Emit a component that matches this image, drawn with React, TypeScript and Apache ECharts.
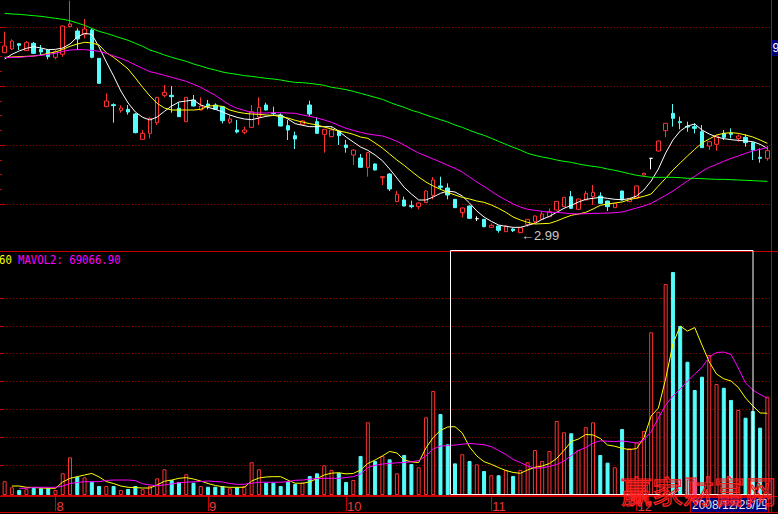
import React, { useEffect, useRef } from "react";
import * as echarts from "echarts";

// ---------- data ----------
const dates = [
  "2008-07-23","2008-07-24","2008-07-25","2008-07-28","2008-07-29","2008-07-30","2008-07-31",
  "2008-08-01","2008-08-04","2008-08-05","2008-08-06","2008-08-07","2008-08-08","2008-08-11","2008-08-12","2008-08-13","2008-08-14","2008-08-15","2008-08-18","2008-08-19","2008-08-20","2008-08-21","2008-08-22","2008-08-25","2008-08-26","2008-08-27","2008-08-28","2008-08-29",
  "2008-09-01","2008-09-02","2008-09-03","2008-09-04","2008-09-05","2008-09-08","2008-09-09","2008-09-10","2008-09-11","2008-09-12","2008-09-16","2008-09-17","2008-09-18","2008-09-19","2008-09-22","2008-09-23","2008-09-24","2008-09-25","2008-09-26",
  "2008-10-06","2008-10-07","2008-10-08","2008-10-09","2008-10-10","2008-10-13","2008-10-14","2008-10-15","2008-10-16","2008-10-17","2008-10-20","2008-10-21","2008-10-22","2008-10-23","2008-10-24","2008-10-27","2008-10-28","2008-10-29","2008-10-30","2008-10-31",
  "2008-11-03","2008-11-04","2008-11-05","2008-11-06","2008-11-07","2008-11-10","2008-11-11","2008-11-12","2008-11-13","2008-11-14","2008-11-17","2008-11-18","2008-11-19","2008-11-20","2008-11-21","2008-11-24","2008-11-25","2008-11-26","2008-11-27","2008-11-28",
  "2008-12-01","2008-12-02","2008-12-03","2008-12-04","2008-12-05","2008-12-08","2008-12-09","2008-12-10","2008-12-11","2008-12-12","2008-12-15","2008-12-16","2008-12-17","2008-12-18","2008-12-19","2008-12-22","2008-12-23","2008-12-24","2008-12-25"
];

const opens = [
  8.40, 8.51, 8.67, 8.46, 8.68, 8.50, 8.48, 8.26, 8.35, 9.18,
  9.05, 8.95, 9.08, 8.23, 6.78, 6.84, 6.67, 6.70, 6.56, 5.80,
  5.98, 6.30, 7.12, 7.12, 6.73, 6.33, 6.98, 6.68, 6.86, 6.83,
  6.78, 6.31, 6.08, 6.01, 6.16, 6.47, 6.83, 6.59, 6.53, 6.21,
  5.91, 6.25, 6.83, 6.33, 5.95, 5.88, 6.05, 5.63, 5.33, 5.24,
  4.96, 5.06, 4.65, 4.76, 3.93, 3.98, 3.81, 3.78, 3.90, 4.12,
  4.40, 4.34, 4.00, 3.60, 3.80, 3.42, 3.40, 3.16, 3.20, 3.03,
  3.11, 3.00, 3.25, 3.33, 3.40, 3.48, 3.68, 3.78, 4.08, 3.70,
  3.98, 4.08, 4.10, 3.95, 3.75, 4.25, 3.93, 4.03, 4.73, 5.23,
  5.45, 6.06, 6.58, 6.33, 6.19, 6.18, 6.03, 5.60, 5.65, 5.98,
  5.98, 5.83, 5.86, 5.70, 5.26, 5.23
];
const closes = [
  8.60, 8.75, 8.62, 8.70, 8.38, 8.42, 8.28, 8.43, 9.20, 9.26,
  8.81, 9.11, 8.26, 7.48, 6.95, 6.81, 6.74, 6.62, 6.00, 5.98,
  6.43, 7.06, 7.21, 7.08, 6.48, 7.06, 6.80, 6.80, 6.80, 6.70,
  6.36, 6.41, 6.02, 6.08, 6.63, 6.76, 6.68, 6.57, 6.20, 6.08,
  5.81, 6.35, 6.56, 5.98, 6.10, 6.08, 5.91, 5.55, 5.48, 4.96,
  5.40, 4.88, 4.68, 4.31, 4.15, 3.80, 3.78, 3.89, 4.25, 4.58,
  4.36, 4.13, 3.75, 3.74, 3.43, 3.42, 3.18, 3.22, 3.07, 3.20,
  3.06, 3.15, 3.40, 3.50, 3.56, 3.63, 3.94, 4.06, 3.73, 4.01,
  4.18, 4.21, 3.88, 3.78, 3.88, 3.98, 4.03, 4.40, 4.78, 5.23,
  5.75, 6.28, 6.43, 6.30, 6.17, 6.13, 5.55, 5.73, 5.90, 5.86,
  5.95, 5.90, 5.70, 5.48, 5.23, 5.46
];
const lows = [
  8.39, 8.48, 8.48, 8.45, 8.36, 8.33, 8.20, 8.20, 8.28, 9.16,
  8.48, 8.83, 8.23, 7.46, 6.77, 6.30, 6.60, 6.54, 5.98, 5.79,
  5.83, 6.23, 7.06, 6.60, 6.47, 6.32, 6.79, 6.67, 6.70, 6.68,
  6.28, 6.26, 5.98, 5.95, 6.14, 6.23, 6.66, 6.51, 6.19, 5.78,
  5.51, 6.24, 6.48, 5.96, 5.40, 5.87, 5.63, 5.40, 5.03, 4.95,
  4.68, 4.87, 4.43, 4.25, 3.92, 3.79, 3.73, 3.70, 3.89, 4.00,
  4.28, 4.00, 3.74, 3.46, 3.41, 3.35, 3.16, 3.15, 3.00, 3.02,
  3.02, 2.99, 3.18, 3.28, 3.39, 3.47, 3.67, 3.77, 3.72, 3.69,
  3.97, 3.83, 3.87, 3.65, 3.74, 3.97, 3.92, 4.02, 4.72, 4.90,
  5.44, 5.86, 6.18, 6.10, 6.03, 5.98, 5.54, 5.48, 5.46, 5.78,
  5.83, 5.73, 5.58, 5.18, 5.10, 5.16
];
const highs = [
  9.03, 8.80, 8.68, 8.75, 8.72, 8.63, 8.51, 8.48, 9.21, 9.96,
  9.13, 9.41, 9.12, 8.24, 7.18, 6.88, 6.82, 6.83, 6.59, 6.08,
  6.46, 7.07, 7.43, 7.40, 6.90, 7.07, 7.13, 7.06, 6.98, 6.88,
  6.80, 6.53, 6.38, 6.18, 6.83, 7.06, 6.90, 6.78, 6.58, 6.38,
  6.03, 6.37, 6.96, 6.46, 6.11, 6.18, 6.06, 5.78, 5.50, 5.36,
  5.41, 5.08, 4.70, 4.78, 4.25, 4.08, 3.96, 3.91, 4.27, 4.67,
  4.68, 4.48, 4.01, 3.76, 3.82, 3.49, 3.41, 3.28, 3.21, 3.21,
  3.13, 3.16, 3.41, 3.52, 3.63, 3.73, 3.95, 4.07, 4.25, 4.02,
  4.25, 4.43, 4.21, 3.96, 3.89, 4.26, 4.04, 4.41, 4.80, 5.23,
  5.76, 6.29, 6.86, 6.48, 6.33, 6.28, 6.23, 5.74, 5.91, 6.08,
  6.13, 5.95, 5.95, 5.71, 5.53, 5.60
];

const priceMA5 = [
  8.21, 8.35, 8.45, 8.53, 8.58, 8.54, 8.49, 8.50, 8.54, 8.66,
  8.87, 8.98, 8.95, 8.57, 8.12, 7.70, 7.25, 6.89, 6.62, 6.46,
  6.38, 6.47, 6.64, 6.80, 6.92, 6.95, 6.98, 6.83, 6.76, 6.70,
  6.62, 6.53, 6.46, 6.41, 6.39, 6.44, 6.49, 6.52, 6.53, 6.41,
  6.27, 6.22, 6.18, 6.18, 6.18, 6.18, 6.05, 5.87, 5.72, 5.57,
  5.47, 5.33, 5.16, 4.91, 4.64, 4.36, 4.16, 3.98, 3.98, 4.07,
  4.18, 4.25, 4.22, 4.10, 3.89, 3.65, 3.47, 3.34, 3.23, 3.19,
  3.16, 3.16, 3.22, 3.28, 3.40, 3.49, 3.61, 3.73, 3.82, 3.92,
  4.00, 4.03, 4.06, 4.03, 4.00, 3.99, 4.02, 4.10, 4.28, 4.55,
  4.91, 5.39, 5.78, 6.05, 6.20, 6.26, 6.08, 5.96, 5.87, 5.82,
  5.79, 5.77, 5.75, 5.73, 5.65, 5.53
];
const priceMA10 = [
  8.26, 8.27, 8.28, 8.29, 8.30, 8.33, 8.38, 8.42, 8.50, 8.59,
  8.66, 8.71, 8.69, 8.63, 8.40, 8.26, 8.09, 7.91, 7.64, 7.36,
  7.10, 6.88, 6.74, 6.68, 6.68, 6.68, 6.68, 6.70, 6.80, 6.81,
  6.79, 6.68, 6.62, 6.58, 6.56, 6.55, 6.53, 6.52, 6.48, 6.44,
  6.37, 6.32, 6.27, 6.23, 6.17, 6.11, 6.05, 6.01, 5.95, 5.87,
  5.83, 5.69, 5.54, 5.36, 5.18, 5.02, 4.84, 4.67, 4.52, 4.40,
  4.30, 4.21, 4.13, 4.06, 4.01, 3.95, 3.91, 3.83, 3.73, 3.61,
  3.47, 3.38, 3.31, 3.26, 3.27, 3.28, 3.35, 3.44, 3.52, 3.56,
  3.61, 3.71, 3.82, 3.86, 3.89, 3.92, 3.99, 4.04, 4.09, 4.16,
  4.40, 4.63, 4.88, 5.09, 5.30, 5.50, 5.69, 5.81, 5.93, 5.98,
  6.00, 5.98, 5.93, 5.87, 5.78, 5.68
];
const priceMA20 = [
  8.25, 8.26, 8.26, 8.28, 8.30, 8.32, 8.35, 8.38, 8.44, 8.48,
  8.49, 8.49, 8.47, 8.44, 8.38, 8.30, 8.23, 8.14, 8.03, 7.93,
  7.83, 7.78, 7.72, 7.66, 7.60, 7.54, 7.45, 7.36, 7.24, 7.12,
  6.97, 6.83, 6.73, 6.67, 6.60, 6.59, 6.59, 6.60, 6.60, 6.59,
  6.58, 6.53, 6.49, 6.44, 6.38, 6.31, 6.22, 6.13, 6.07, 6.01,
  5.96, 5.93, 5.90, 5.83, 5.74, 5.63, 5.50, 5.39, 5.30, 5.21,
  5.12, 5.02, 4.93, 4.82, 4.67, 4.52, 4.39, 4.24, 4.10, 3.98,
  3.86, 3.77, 3.70, 3.67, 3.64, 3.61, 3.61, 3.59, 3.57, 3.56,
  3.57, 3.58, 3.58, 3.59, 3.60, 3.62, 3.68, 3.74, 3.80, 3.88,
  4.00, 4.12, 4.25, 4.40, 4.55, 4.69, 4.84, 4.96, 5.05, 5.14,
  5.23, 5.30, 5.38, 5.45, 5.50, 5.56
];
const priceMA60 = [
  9.58, 9.56, 9.55, 9.53, 9.51, 9.49, 9.46, 9.43, 9.40, 9.36,
  9.29, 9.22, 9.13, 9.04, 8.98, 8.91, 8.84, 8.77, 8.68, 8.59,
  8.48, 8.41, 8.33, 8.26, 8.20, 8.14, 8.06, 8.00, 7.93, 7.88,
  7.82, 7.78, 7.75, 7.71, 7.69, 7.66, 7.63, 7.61, 7.58, 7.54,
  7.51, 7.50, 7.48, 7.45, 7.42, 7.36, 7.33, 7.29, 7.24, 7.18,
  7.12, 7.06, 7.00, 6.91, 6.83, 6.76, 6.67, 6.61, 6.53, 6.46,
  6.39, 6.32, 6.23, 6.16, 6.07, 5.99, 5.92, 5.83, 5.74, 5.65,
  5.56, 5.48, 5.38, 5.32, 5.27, 5.23, 5.18, 5.14, 5.11, 5.06,
  5.02, 4.99, 4.96, 4.91, 4.87, 4.82, 4.77, 4.72, 4.69, 4.66,
  4.66, 4.66, 4.66, 4.65, 4.63, 4.63, 4.62, 4.61, 4.60, 4.60,
  4.59, 4.58, 4.57, 4.56, 4.55, 4.54
];

const volumes = [
  9800, 5500, 3600, 4100, 5200, 4800, 4800, 3600, 15500, 26900,
  13100, 12600, 9500, 6400, 6400, 6400, 3600, 4300, 6400, 4100,
  6400, 11900, 18400, 10700, 9300, 14800, 8800, 6400, 5900, 5900,
  6400, 4800, 5500, 6400, 23400, 18400, 8800, 8800, 6400, 9500,
  7900, 8800, 13600, 15500, 21200, 17900, 15900, 9300, 10700, 27900,
  51900, 24300, 27900, 25500, 15500, 28600, 22100, 19800, 55500, 74300,
  57900, 36200, 22600, 29100, 24300, 21900, 17100, 14100, 14100, 17900,
  13600, 17900, 23400, 32100, 24300, 31400, 52900, 44800, 44100, 32100,
  48400, 51900, 28600, 23100, 19800, 47100, 33400, 37600, 45700, 116200,
  59500, 150700, 159300, 120700, 95200, 75000, 84500, 100000, 79300, 76600,
  67900, 60700, 55200, 60000, 48100, 70200
];
const volMA5 = [
  null, 6400, 6400, 5500, 5400, 5000, 4800, 4800, 9300, 11900,
  13100, 14300, 15400, 12900, 9600, 8200, 6400, 5500, 5300, 5000,
  5000, 7200, 9800, 10700, 11900, 12400, 11400, 10000, 8200, 6800,
  5900, 5500, 5500, 5500, 10000, 12100, 12900, 13100, 13100, 10600,
  8400, 8400, 9300, 11800, 14300, 15600, 15900, 15100, 15400, 17900,
  22500, 25000, 27900, 31100, 30000, 25000, 23700, 23200, 33600, 41100,
  46100, 48600, 48800, 44300, 34300, 27900, 23800, 21900, 19600, 17500,
  16100, 15500, 17900, 19800, 20700, 22500, 26100, 31800, 38200, 40000,
  43200, 42900, 40400, 35700, 34800, 33400, 32400, 33200, 40700, 56400,
  62100, 83000, 107900, 120700, 117100, 119600, 107100, 95000, 86400, 83000,
  81400, 76800, 69300, 63600, 58600, 58400
];
const volMA10 = [
  null, null, 4800, 4800, 5500, 5500, 5500, 5500, 6400, 8200,
  8900, 9500, 9500, 9500, 10400, 10700, 10700, 10700, 10300, 8000,
  7200, 6600, 7200, 7900, 8800, 9100, 9400, 9600, 10000, 9600,
  9300, 8200, 7600, 7700, 8400, 9100, 9100, 9100, 9100, 9600,
  10500, 10700, 11300, 11800, 11900, 11900, 11900, 12500, 13100, 15000,
  19600, 21200, 22100, 22600, 23000, 23200, 23700, 24600, 27900, 32900,
  34900, 35300, 35700, 36300, 36800, 36400, 35900, 34500, 31800, 28900,
  25400, 23200, 20700, 19100, 19400, 20400, 21800, 24300, 28200, 31800,
  33900, 37100, 38700, 38400, 38200, 38600, 37900, 37100, 39300, 45400,
  55000, 64300, 70700, 75700, 81400, 86400, 91100, 98600, 101800, 102100,
  100400, 90700, 80000, 75000, 71800, 69067
];

const lowestIndex = 71;
const volumeLegendTail = "60";
const volumeLegend = "MAVOL2: 69066.90";
const cursorDate = "2008/12/25/\u56db";
const priceTag = "9";
const watermark = "\u8d62\u5bb6\u8d22\u5bcc\u7f51";

// ---------- colours ----------
const UP = "#ff3232";
const DOWN = "#54fcfc";
const GRID_RED = "#b40000";
const AXIS_RED = "#c80000";

const monthOf = (d: string) => d.slice(5, 7);
const isMonthStart = (i: number) => i > 0 && monthOf(dates[i]) !== monthOf(dates[i - 1]);

export default function App() {
  const ref = useRef<HTMLDivElement>(null);

  useEffect(() => {
    if (!ref.current) return;
    const chart = echarts.init(ref.current, null, { renderer: "svg" });

    const candles = dates.map((_, i) => [opens[i], closes[i], lows[i], highs[i]]);
    const volData = volumes.map((v, i) => {
      const up = closes[i] >= opens[i];
      return {
        value: v,
        itemStyle: up
          ? { color: "#000000", borderColor: UP, borderWidth: 1 }
          : { color: DOWN, borderColor: DOWN, borderWidth: 1 },
      };
    });

    const maLine = (name: string, data: any[], color: string, xi: number) => ({
      name,
      type: "line",
      xAxisIndex: xi,
      yAxisIndex: xi,
      data,
      symbol: "none",
      showSymbol: false,
      silent: true,
      lineStyle: { color, width: 1 },
      z: 3,
    });

    const dotted = { color: GRID_RED, width: 1, type: [1, 2.3] };

    const option: any = {
      animation: false,
      backgroundColor: "#000000",
      grid: [
        { left: 1, top: 0, width: 770, height: 252 },
        { left: 1, top: 252, width: 770, height: 243 },
        { left: 0, top: 27, width: 771, height: 177 },
        { left: 0, top: 298, width: 771, height: 167 },
      ],
      xAxis: [
        { type: "category", gridIndex: 0, data: dates, show: false, boundaryGap: true },
        {
          type: "category",
          gridIndex: 1,
          data: dates,
          boundaryGap: true,
          offset: 2,
          axisLine: { show: true, lineStyle: { color: AXIS_RED, width: 1 } },
          axisTick: {
            show: true,
            alignWithLabel: true,
            interval: (i: number) => isMonthStart(i),
            length: 16,
            lineStyle: { color: AXIS_RED, width: 1 },
          },
          axisLabel: {
            show: true,
            interval: (i: number) => isMonthStart(i),
            formatter: (v: string) => String(Number(monthOf(v))),
            color: "#e83838",
            fontSize: 13,
            fontFamily: "Liberation Sans",
            align: "left",
            margin: 3,
            padding: [0, 0, 0, 1],
          },
          splitLine: { show: false },
        },
        { type: "value", gridIndex: 2, show: false, min: 0, max: 1 },
        { type: "value", gridIndex: 3, show: false, min: 0, max: 1 },
      ],
      yAxis: [
        { type: "value", gridIndex: 0, min: 2.42, max: 9.98, show: false, splitLine: { show: false } },
        { type: "value", gridIndex: 1, min: 0, max: 173575, show: false, splitLine: { show: false } },
        {
          type: "value",
          gridIndex: 2,
          min: 0,
          max: 3,
          interval: 1,
          position: "right",
          axisLine: { show: false },
          axisLabel: { show: false },
          axisTick: { show: true, length: 5, lineStyle: { color: AXIS_RED } },
          minorTick: { show: true, splitNumber: 4, length: 2, lineStyle: { color: AXIS_RED } },
          splitLine: { show: true, lineStyle: dotted },
        },
        {
          type: "value",
          gridIndex: 3,
          min: 0,
          max: 6,
          interval: 1,
          position: "right",
          axisLine: { show: false },
          axisLabel: { show: false },
          axisTick: { show: true, length: 4, lineStyle: { color: AXIS_RED } },
          splitLine: { show: true, lineStyle: dotted },
        },
      ],
      series: [
        {
          name: "K",
          type: "candlestick",
          xAxisIndex: 0,
          yAxisIndex: 0,
          data: candles,
          barWidth: 4,
          silent: true,
          itemStyle: {
            color: "#000000",
            color0: DOWN,
            borderColor: UP,
            borderColor0: DOWN,
            borderColorDoji: "#ffffff",
            borderWidth: 1,
          },
          markPoint: {
            symbol: "circle",
            symbolSize: 1,
            itemStyle: { color: "rgba(0,0,0,0)" },
            silent: true,
            data: [{ coord: [dates[lowestIndex], lows[lowestIndex]], value: lows[lowestIndex] }],
            label: {
              show: true,
              position: "right",
              distance: 0,
              offset: [0, 2],
              formatter: (p: any) => "\u2190" + Number(p.value).toFixed(2),
              color: "#c8c8c8",
              fontSize: 13,
              fontFamily: "Liberation Sans",
            },
          },
        },
        maLine("MA5", priceMA5, "#ffffff", 0),
        maLine("MA10", priceMA10, "#ffff00", 0),
        maLine("MA20", priceMA20, "#ff00ff", 0),
        maLine("MA60", priceMA60, "#00ff00", 0),
        {
          name: "VOL",
          type: "bar",
          xAxisIndex: 1,
          yAxisIndex: 1,
          data: volData,
          barWidth: 4,
          silent: true,
        },
        maLine("MAVOL1", volMA5, "#ffff00", 1),
        maLine("MAVOL2", volMA10, "#ff00ff", 1),
      ],
      graphic: [
        { type: "line", silent: true, z: 50, shape: { x1: 0, y1: 251.5, x2: 778, y2: 251.5 }, style: { stroke: AXIS_RED, lineWidth: 1 } },
        { type: "line", silent: true, z: 50, shape: { x1: 0, y1: 496.5, x2: 778, y2: 496.5 }, style: { stroke: AXIS_RED, lineWidth: 1 } },
        { type: "line", silent: true, z: 50, shape: { x1: 0, y1: 512.5, x2: 778, y2: 512.5 }, style: { stroke: AXIS_RED, lineWidth: 1 } },
        { type: "line", silent: true, z: 50, shape: { x1: 771.5, y1: 0, x2: 771.5, y2: 513 }, style: { stroke: AXIS_RED, lineWidth: 1 } },
        { type: "rect", silent: true, z: 60, shape: { x: 450.5, y: 250.5, width: 302.5, height: 244 }, style: { fill: "none", stroke: "#ffffff", lineWidth: 1 } },
        { type: "line", silent: true, z: 60, shape: { x1: 753, y1: 494.5, x2: 772, y2: 494.5 }, style: { stroke: "#ffffff", lineWidth: 1 } },
        {
          type: "text", silent: true, z: 70, x: -1, y: 253, scaleX: 0.82,
          style: { text: volumeLegendTail, fill: "#ffff00", font: '13px "DejaVu Sans Mono"', textVerticalAlign: "top", verticalAlign: "top" },
        },
        {
          type: "text", silent: true, z: 70, x: 18, y: 253, scaleX: 0.82,
          style: { text: volumeLegend, fill: "#ff00ff", font: '13px "DejaVu Sans Mono"', textVerticalAlign: "top", verticalAlign: "top" },
        },
        { type: "rect", silent: true, z: 70, shape: { x: 772, y: 40, width: 6, height: 16 }, style: { fill: "#00007a" } },
        {
          type: "text", silent: true, z: 71, x: 772.5, y: 42,
          style: { text: priceTag, fill: "#ffffff", font: '12px "Liberation Sans"', textVerticalAlign: "top", verticalAlign: "top" },
        },
        { type: "rect", silent: true, z: 70, shape: { x: 690.5, y: 497.5, width: 78, height: 15 }, style: { fill: "#00007a", stroke: AXIS_RED, lineWidth: 1 } },
        {
          type: "text", silent: true, z: 71, x: 692, y: 498.5,
          style: { text: cursorDate, fill: "#e8e8e8", font: '12px "Liberation Sans", "Noto Sans CJK SC"', textVerticalAlign: "top", verticalAlign: "top" },
        },
        {
          type: "text", silent: true, z: 80, x: 621, y: 474,
          style: {
            text: watermark,
            fill: "rgba(0,0,0,0)",
            stroke: "#ff2020",
            lineWidth: 1.2,
            font: '31px "Noto Sans CJK SC"',
            textVerticalAlign: "top",
            verticalAlign: "top",
          },
        },
      ],
    };

    chart.setOption(option);
    return () => chart.dispose();
  }, []);

  return (
    <div
      ref={ref}
      style={{ position: "fixed", left: 0, top: 0, width: 778, height: 514, background: "#000" }}
    />
  );
}
